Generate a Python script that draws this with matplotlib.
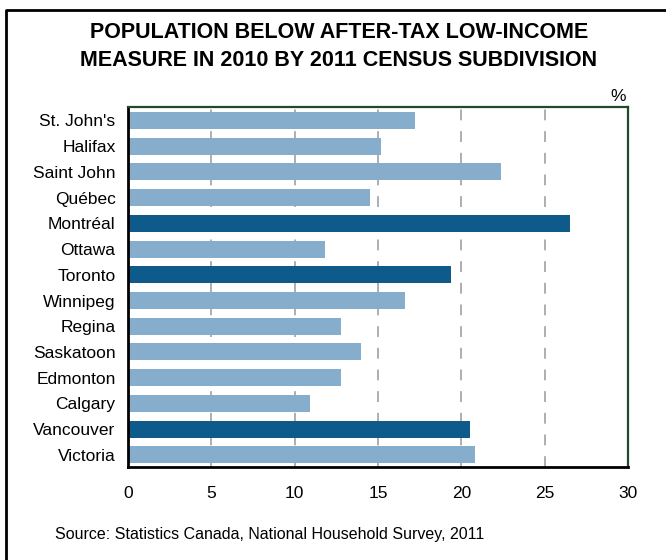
import matplotlib.pyplot as plt
from matplotlib.lines import Line2D

plt.rcParams["font.family"] = ["Liberation Sans", "DejaVu Sans"]

cities = ["St. John's", "Halifax", "Saint John", "Québec", "Montréal", "Ottawa",
          "Toronto", "Winnipeg", "Regina", "Saskatoon", "Edmonton", "Calgary",
          "Vancouver", "Victoria"]
pct = [17.2, 15.2, 22.4, 14.5, 26.5, 11.8, 19.4, 16.6, 12.8, 14.0, 12.8, 10.9, 20.5, 20.8]
highlight = ["Montréal", "Toronto", "Vancouver"]

light = "#86AECC"
dark = "#0E5B8B"
green = "#1F4A2C"

fig = plt.figure(figsize=(6.66, 5.6), dpi=100)
ax = fig.add_axes([128 / 666, 1 - 467 / 560, 500 / 666, 360 / 560])

colors = [dark if c in highlight else light for c in cities]
y = list(range(len(cities)))
ax.barh(y, pct, height=0.66, color=colors, zorder=2)

ax.set_xlim(0, 30)
ax.set_ylim(13.47, -0.52)
ax.set_xticks([0, 5, 10, 15, 20, 25, 30])
ax.set_yticks(y)
ax.set_yticklabels(cities)
ax.tick_params(axis="both", length=0, labelsize=12.5)
ax.tick_params(axis="y", pad=9)
ax.tick_params(axis="x", pad=14)

for v in [5, 10, 15, 20, 25]:
    ax.axvline(v, color="#a8a8a8", linewidth=1.3, linestyle=(0, (6, 6)), zorder=1)

for side in ["left", "bottom"]:
    ax.spines[side].set_color("black")
    ax.spines[side].set_linewidth(2)
for side in ["top", "right"]:
    ax.spines[side].set_color(green)
    ax.spines[side].set_linewidth(1.6)

fig.text(339 / 666, 1 - 22 / 560, "POPULATION BELOW AFTER-TAX LOW-INCOME\nMEASURE IN 2010 BY 2011 CENSUS SUBDIVISION",
         ha="center", va="top", fontsize=15.5, fontweight="bold", linespacing=1.45)
fig.text(618 / 666, 1 - 96 / 560, "%", ha="center", va="center", fontsize=12.5)
fig.text(55 / 666, 1 - 535 / 560, "Source: Statistics Canada, National Household Survey, 2011",
         ha="left", va="center", fontsize=11.5)

# outer frame: only top and left edges fall inside the canvas
x0, y0 = 6 / 666, 1 - 10 / 560
fig.add_artist(Line2D([x0, x0, 1.0], [0.0, y0, y0], transform=fig.transFigure,
                      color="black", linewidth=2))

fig.savefig("out.png", dpi=100)
